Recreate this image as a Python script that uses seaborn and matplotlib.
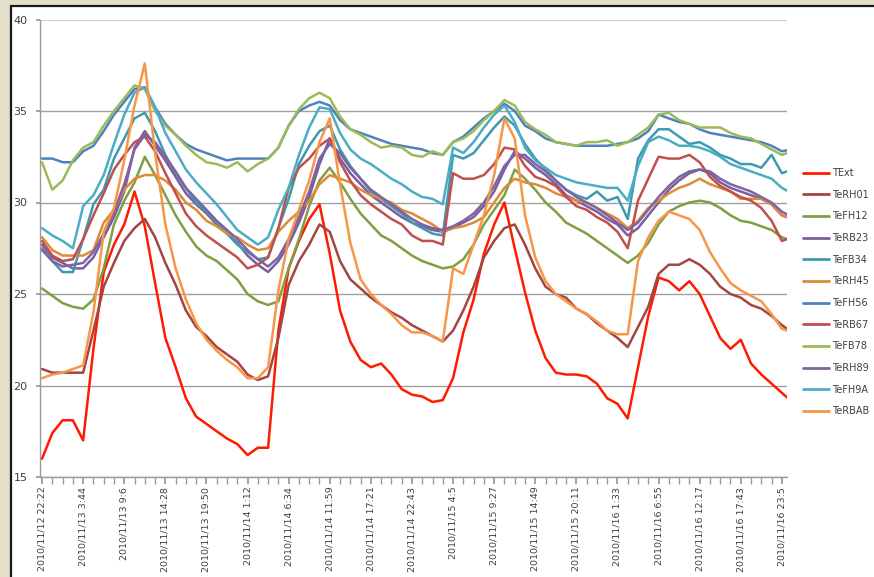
import numpy as np
import pandas as pd
import matplotlib
matplotlib.use("Agg")
import matplotlib.pyplot as plt
import seaborn as sns
from matplotlib.patches import Rectangle

# category labels of the Excel time axis (one every 4 samples)
time_labels = ["2010/11/12 22:22", "2010/11/13 3:44", "2010/11/13 9:6", "2010/11/13 14:28",
               "2010/11/13 19:50", "2010/11/14 1:12", "2010/11/14 6:34", "2010/11/14 11:59",
               "2010/11/14 17:21", "2010/11/14 22:43", "2010/11/15 4:5", "2010/11/15 9:27",
               "2010/11/15 14:49", "2010/11/15 20:11", "2010/11/16 1:33", "2010/11/16 6:55",
               "2010/11/16 12:17", "2010/11/16 17:43", "2010/11/16 23:5"]

# temperatures, 4 samples per label interval
t_ext = [16.0, 17.4, 18.1, 18.1, 17.0, 22.0, 26.2, 27.7, 28.8, 30.6, 28.7, 25.6, 22.6, 21.0, 19.3, 18.3,
         17.9, 17.5, 17.1, 16.8, 16.2, 16.6, 16.6, 23.0, 26.4, 27.9, 29.1, 29.9, 27.2, 24.1, 22.4, 21.4,
         21.0, 21.2, 20.6, 19.8, 19.5, 19.4, 19.1, 19.2, 20.4, 22.9, 24.7, 27.2, 28.8, 30.0, 27.5, 25.1,
         23.0, 21.5, 20.7, 20.6, 20.6, 20.5, 20.1, 19.3, 19.0, 18.2, 21.0, 23.8, 25.9, 25.7, 25.2, 25.7,
         25.0, 23.8, 22.6, 22.0, 22.5, 21.2, 20.6, 20.1, 19.6, 19.1]
te_rh01 = [20.9, 20.7, 20.7, 20.7, 20.7, 23.0, 25.4, 26.7, 27.9, 28.6, 29.1, 28.1, 26.7, 25.5, 24.1, 23.2,
           22.7, 22.1, 21.7, 21.3, 20.6, 20.3, 20.5, 22.6, 25.5, 26.8, 27.7, 28.8, 28.4, 26.8, 25.8, 25.3,
           24.8, 24.4, 24.0, 23.7, 23.3, 23.0, 22.7, 22.4, 23.0, 24.1, 25.4, 27.0, 27.9, 28.6, 28.8, 27.7,
           26.4, 25.4, 25.0, 24.8, 24.2, 23.9, 23.4, 23.0, 22.6, 22.1, 23.2, 24.3, 26.1, 26.6, 26.6, 26.9,
           26.6, 26.1, 25.4, 25.0, 24.8, 24.4, 24.2, 23.8, 23.3, 22.9]
te_fh12 = [25.3, 24.9, 24.5, 24.3, 24.2, 24.7, 26.4, 28.8, 30.1, 31.1, 32.5, 31.5, 30.4, 29.3, 28.4, 27.6,
           27.1, 26.8, 26.3, 25.8, 25.0, 24.6, 24.4, 24.6, 26.4, 28.0, 29.8, 31.2, 31.9, 31.1, 30.2, 29.4,
           28.8, 28.2, 27.9, 27.5, 27.1, 26.8, 26.6, 26.4, 26.5, 26.9, 27.7, 28.8, 29.6, 30.4, 31.8, 31.3,
           30.7, 30.0, 29.5, 28.9, 28.6, 28.3, 27.9, 27.5, 27.1, 26.7, 27.1, 27.8, 28.8, 29.5, 29.8, 30.0,
           30.1, 30.0, 29.7, 29.3, 29.0, 28.9, 28.7, 28.5, 28.1, 27.9]
te_rb23 = [27.7, 27.0, 26.7, 26.4, 26.4, 27.0, 28.1, 29.2, 30.6, 33.0, 33.9, 33.1, 32.3, 31.4, 30.5, 29.9,
           29.4, 28.8, 28.3, 27.8, 27.1, 26.6, 26.2, 26.8, 27.7, 28.9, 30.3, 32.1, 33.5, 32.4, 31.6, 31.0,
           30.4, 30.0, 29.6, 29.2, 28.9, 28.7, 28.5, 28.4, 28.6, 28.9, 29.2, 29.8, 30.6, 31.8, 32.8, 32.4,
           31.9, 31.5, 31.0, 30.4, 30.1, 29.8, 29.5, 29.1, 28.8, 28.2, 28.6, 29.3, 30.0, 30.7, 31.2, 31.6,
           31.8, 31.6, 31.1, 30.8, 30.6, 30.4, 30.2, 29.9, 29.3, 29.1]
te_fb34 = [27.5, 26.8, 26.2, 26.2, 28.0, 29.9, 30.7, 32.4, 33.5, 34.6, 34.9, 33.9, 32.6, 31.6, 30.8, 30.0,
           29.5, 28.9, 28.3, 27.7, 27.3, 26.9, 27.0, 28.6, 30.2, 32.1, 33.1, 33.9, 34.2, 32.9, 32.0, 31.3,
           30.6, 30.2, 29.8, 29.4, 28.9, 28.6, 28.3, 28.2, 32.6, 32.4, 32.7, 33.4, 34.1, 34.7, 34.2, 33.2,
           32.4, 31.8, 31.2, 30.7, 30.4, 30.2, 30.6, 30.1, 30.3, 29.1, 32.4, 33.4, 34.0, 34.0, 33.6, 33.2,
           33.3, 33.0, 32.6, 32.4, 32.1, 32.1, 31.9, 32.6, 31.6, 31.8]
te_rh45 = [28.1, 27.4, 27.1, 27.1, 27.1, 27.4, 28.9, 29.6, 30.7, 31.3, 31.5, 31.5, 31.2, 30.7, 30.0, 29.6,
           29.0, 28.7, 28.3, 28.1, 27.7, 27.4, 27.5, 28.4, 29.0, 29.5, 30.1, 31.0, 31.5, 31.3, 31.1, 30.7,
           30.4, 30.2, 30.0, 29.6, 29.4, 29.1, 28.8, 28.4, 28.6, 28.7, 28.9, 29.2, 30.0, 30.8, 31.3, 31.1,
           31.0, 30.8, 30.5, 30.3, 30.1, 30.0, 29.7, 29.4, 29.1, 28.6, 29.0, 29.7, 30.1, 30.5, 30.8, 31.0,
           31.3, 31.0, 30.8, 30.6, 30.2, 30.2, 30.2, 29.9, 29.3, 29.1]
te_fh56 = [32.4, 32.4, 32.2, 32.2, 32.8, 33.1, 33.9, 34.8, 35.5, 36.2, 36.3, 35.2, 34.3, 33.7, 33.2, 32.9,
           32.7, 32.5, 32.3, 32.4, 32.4, 32.4, 32.4, 33.0, 34.2, 35.0, 35.3, 35.5, 35.3, 34.5, 34.0, 33.8,
           33.6, 33.4, 33.2, 33.1, 33.0, 32.9, 32.7, 32.6, 33.3, 33.6, 34.1, 34.6, 35.0, 35.4, 35.0, 34.2,
           33.9, 33.5, 33.3, 33.2, 33.1, 33.1, 33.1, 33.1, 33.2, 33.3, 33.5, 33.9, 34.8, 34.6, 34.4, 34.3,
           34.0, 33.8, 33.7, 33.6, 33.5, 33.4, 33.3, 33.1, 32.8, 32.9]
te_rb67 = [27.9, 27.1, 26.8, 26.9, 28.0, 29.3, 30.5, 31.8, 32.6, 33.3, 33.6, 32.8, 31.6, 30.5, 29.4, 28.7,
           28.2, 27.8, 27.4, 27.0, 26.4, 26.6, 27.0, 28.6, 30.8, 31.9, 32.4, 33.1, 33.5, 32.2, 31.2, 30.4,
           29.9, 29.5, 29.1, 28.8, 28.2, 27.9, 27.9, 27.7, 31.6, 31.3, 31.3, 31.5, 32.1, 33.0, 32.9, 32.0,
           31.4, 31.2, 30.9, 30.3, 29.8, 29.6, 29.2, 28.9, 28.4, 27.5, 30.1, 31.3, 32.5, 32.4, 32.4, 32.6,
           32.2, 31.4, 30.9, 30.6, 30.3, 30.1, 29.7, 29.0, 27.9, 28.1]
te_fb78 = [32.2, 30.7, 31.2, 32.3, 33.0, 33.3, 34.2, 35.0, 35.7, 36.4, 36.2, 35.0, 34.2, 33.7, 33.1, 32.6,
           32.2, 32.1, 31.9, 32.2, 31.7, 32.1, 32.4, 33.0, 34.2, 35.1, 35.7, 36.0, 35.7, 34.7, 34.0, 33.7,
           33.3, 33.0, 33.1, 33.0, 32.6, 32.5, 32.8, 32.6, 33.3, 33.5, 33.9, 34.5, 35.0, 35.6, 35.3, 34.4,
           34.0, 33.7, 33.3, 33.2, 33.1, 33.3, 33.3, 33.4, 33.1, 33.3, 33.7, 34.1, 34.8, 34.9, 34.5, 34.3,
           34.1, 34.1, 34.1, 33.8, 33.6, 33.5, 33.2, 32.9, 32.6, 32.8]
te_rh89 = [27.4, 26.8, 26.5, 26.6, 26.7, 27.3, 28.3, 29.5, 31.0, 32.9, 33.7, 33.3, 32.5, 31.7, 30.8, 30.2,
           29.6, 29.0, 28.5, 28.0, 27.4, 26.9, 26.5, 27.0, 28.0, 29.2, 30.6, 32.4, 33.2, 32.7, 31.9, 31.3,
           30.7, 30.3, 29.9, 29.5, 29.1, 28.8, 28.6, 28.5, 28.7, 29.0, 29.4, 30.0, 30.9, 32.0, 32.6, 32.6,
           32.1, 31.7, 31.2, 30.7, 30.3, 30.0, 29.7, 29.3, 28.9, 28.5, 28.9, 29.6, 30.3, 30.9, 31.4, 31.7,
           31.8, 31.7, 31.3, 31.0, 30.8, 30.6, 30.3, 30.0, 29.5, 29.2]
te_fh9a = [28.6, 28.2, 27.9, 27.5, 29.8, 30.4, 31.5, 33.2, 34.8, 36.0, 36.3, 35.2, 33.8, 32.8, 31.8, 31.1,
           30.5, 29.9, 29.2, 28.5, 28.1, 27.7, 28.1, 29.6, 30.8, 32.6, 34.1, 35.2, 35.1, 33.8, 32.9, 32.4,
           32.1, 31.7, 31.3, 31.0, 30.6, 30.3, 30.2, 29.9, 33.0, 32.7, 33.3, 34.1, 34.8, 35.3, 34.4, 33.0,
           32.3, 31.9, 31.5, 31.3, 31.1, 31.0, 30.9, 30.8, 30.8, 30.1, 32.0, 33.3, 33.6, 33.4, 33.1, 33.1,
           33.0, 32.8, 32.5, 32.1, 31.9, 31.7, 31.5, 31.3, 30.8, 30.5]
te_rbab = [20.4, 20.6, 20.7, 20.9, 21.1, 24.0, 28.4, 29.7, 32.3, 35.3, 37.6, 32.7, 28.8, 26.4, 24.7, 23.4,
           22.5, 21.9, 21.4, 21.0, 20.4, 20.4, 21.0, 25.2, 28.0, 29.6, 31.2, 33.3, 34.6, 31.0, 27.8, 25.8,
           25.0, 24.4, 23.9, 23.3, 22.9, 22.9, 22.7, 22.4, 26.4, 26.1, 27.7, 29.3, 31.5, 34.6, 33.5, 29.3,
           27.0, 25.7, 25.0, 24.6, 24.2, 23.9, 23.5, 23.0, 22.8, 22.8, 26.8, 28.1, 29.0, 29.5, 29.3, 29.1,
           28.5, 27.3, 26.4, 25.6, 25.2, 24.9, 24.6, 23.9, 23.1, 22.9]

sensors = ["TExt", "TeRH01", "TeFH12", "TeRB23", "TeFB34", "TeRH45",
           "TeFH56", "TeRB67", "TeFB78", "TeRH89", "TeFH9A", "TeRBAB"]
colors = ["#FF1A00", "#A34541", "#7F9F42", "#7B5E9E", "#3D9AB0", "#DF8A34",
          "#4F81BD", "#C0504D", "#9BBB59", "#8064A2", "#4BACC6", "#F79646"]

df = pd.DataFrame(dict(zip(sensors, [t_ext, te_rh01, te_fh12, te_rb23, te_fb34, te_rh45,
                                     te_fh56, te_rb67, te_fb78, te_rh89, te_fh9a, te_rbab])))
df["sample"] = np.arange(len(df))
data = df.melt(id_vars="sample", var_name="sensor", value_name="temp")

sns.set_theme(style="white")
plt.rcParams["font.family"] = ["DejaVu Sans"]

fig = plt.figure(figsize=(8.74, 5.77), dpi=100)
fig.patch.set_facecolor("#E3DFCB")
# white slide panel with dark border, kept behind the axes
fig.patches.append(Rectangle((11 / 874, -0.05), 1.0, 1.05 - 6.5 / 577, transform=fig.transFigure,
                             facecolor="white", edgecolor="#1a1a1a", lw=1.6, zorder=-10))

ax = fig.add_axes([40 / 874, 1 - 477 / 577, 747 / 874, 457.5 / 577])
ax.set_zorder(1)
ax.set_facecolor("none")
sns.lineplot(data=data, x="sample", y="temp", hue="sensor", hue_order=sensors,
             palette=dict(zip(sensors, colors)), estimator=None, lw=1.8, ax=ax)

ax.set_ylim(15, 40)
ax.set_yticks(range(15, 41, 5))
ax.set_xlim(-0.2, 72.5)
ax.set_xticks(np.arange(0, 73, 4))
ax.set_xticks(np.arange(0, 73, 1), minor=True)
ax.set_xticklabels(time_labels, rotation=90)
ax.set_xlabel("")
ax.set_ylabel("")
ax.yaxis.grid(True, color="#a0a0a0", lw=1)
ax.get_ygridlines()[-1].set_color("#d4d4d4")
ax.set_axisbelow(True)
for s in ["top", "right"]:
    ax.spines[s].set_visible(False)
for s in ["left", "bottom"]:
    ax.spines[s].set_color("#9a9a9a")
    ax.spines[s].set_linewidth(1)
ax.tick_params(axis="x", which="both", direction="out", length=5, color="#9a9a9a",
               labelsize=6.8, labelcolor="#404040", pad=2, bottom=True)
ax.tick_params(axis="y", direction="out", length=3, color="#9a9a9a",
               labelsize=8, labelcolor="#404040", pad=6, left=True)

handles, labels = ax.get_legend_handles_labels()
ax.get_legend().remove()
leg = fig.legend(handles, labels, loc="upper left", bbox_to_anchor=(803 / 874, 1 - 168 / 577),
                 frameon=False, fontsize=7, handlelength=2.7, handletextpad=0.3,
                 labelspacing=1.2, borderpad=0, borderaxespad=0)
for line in leg.get_lines():
    line.set_linewidth(2)
for txt in leg.get_texts():
    txt.set_color("#404040")

fig.savefig("out.png", dpi=100, facecolor=fig.get_facecolor())
